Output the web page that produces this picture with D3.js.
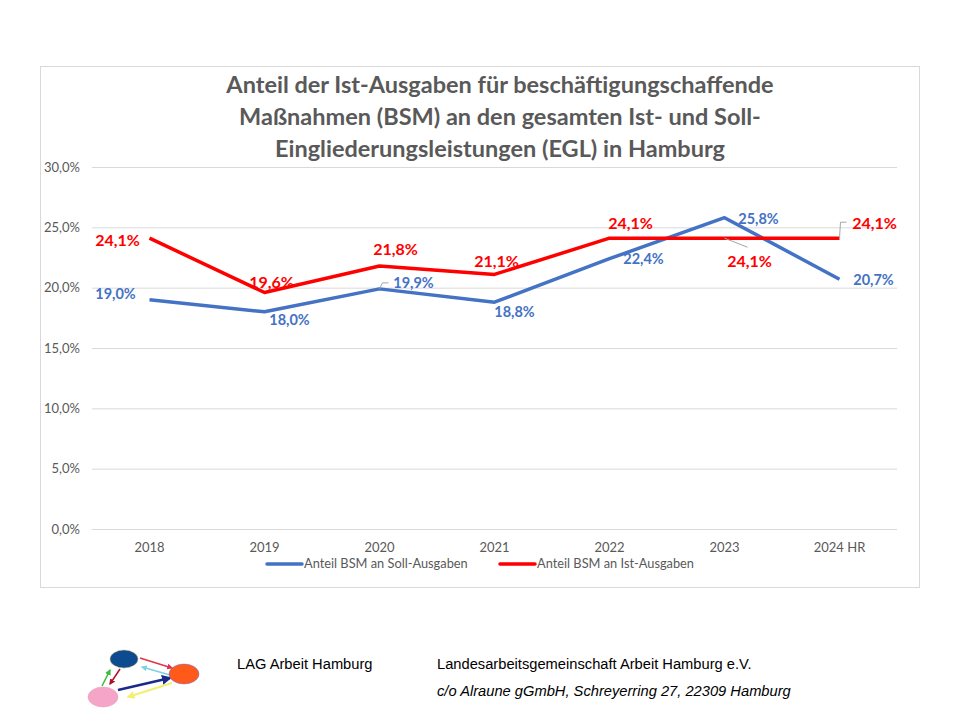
<!DOCTYPE html>
<html><head><meta charset="utf-8">
<script src="https://cdn.jsdelivr.net/npm/d3@7"></script>
<style>body{margin:0;background:#fff}svg{display:block}</style>
</head><body>
<svg id="c" width="960" height="720"></svg>
<script>
const categories = ["2018","2019","2020","2021","2022","2023","2024 HR"];
const sollValues = [19.0, 18.0, 19.9, 18.8, 22.4, 25.8, 20.7];
const istValues = [24.1, 19.6, 21.8, 21.1, 24.1, 24.1, 24.1];
const yTicks = [0, 5, 10, 15, 20, 25, 30];
const seriesNames = ["Anteil BSM an Soll-Ausgaben", "Anteil BSM an Ist-Ausgaben"];
const titleLines = ["Anteil der Ist-Ausgaben für beschäftigungschaffende","Maßnahmen (BSM) an den gesamten Ist- und Soll-","Eingliederungsleistungen (EGL) in Hamburg"];
// label offsets [dx, dy] relative to point
const sollLabelPos = [[-34,-6],[25,8],[34,-6],[20,10],[34,0],[34,1],[34,1]];
const istLabelPos = [[-32,2],[7,-10],[16,-17],[2,-13],[21,-15],[25,23],[35,-15]];
const istLeader = [null,null,null,null,null,[[0,0],[23,9]],[[0,0],[1,-16],[7,-16]]];
const sollLeader = [null,null,[[0,0],[3,-6],[9,-6]],null,null,null,null];

const svg = d3.select("#c");
const fmt = v => v.toFixed(1).replace(".", ",") + "%";
const font = "Lato, 'Open Sans', sans-serif";

// chart frame
svg.append("rect").attr("x",40.5).attr("y",66.5).attr("width",879).attr("height",521)
  .attr("fill","#fff").attr("stroke","#d9d9d9").attr("stroke-width",1);

const x = d3.scaleBand().domain(categories).range([92, 897]);
const y = d3.scaleLinear().domain([0, 30]).range([529, 167]);

// title
svg.append("g").selectAll("text").data(titleLines).join("text")
  .attr("x", 500).attr("y", (d,i) => 93 + i*32)
  .attr("text-anchor","middle").attr("font-family",font)
  .attr("font-weight","bold").attr("font-size",23.5).attr("fill","#595959").text(d=>d);

// gridlines + y axis
const yAxis = d3.axisLeft(y).tickValues(yTicks).tickSize(-(897-92)).tickFormat(d => d.toFixed(1).replace(".",",") + "%").tickPadding(12);
const gy = svg.append("g").attr("transform","translate(92,0)").call(yAxis);
gy.select(".domain").remove();
gy.selectAll(".tick line").attr("stroke","#d9d9d9").attr("stroke-width",1);
gy.selectAll(".tick text").attr("font-family",font).attr("font-size",13).attr("fill","#595959");

// x axis
const xAxis = d3.axisBottom(x).tickSize(0).tickPadding(14);
const gx = svg.append("g").attr("transform","translate(0,529)").call(xAxis);
gx.select(".domain").remove();
gx.selectAll(".tick text").attr("font-family",font).attr("font-size",13).attr("fill","#595959");

const cx = c => x(c) + x.bandwidth()/2;
const line = d3.line().x((d,i)=>cx(categories[i])).y(d=>y(d));

svg.append("path").datum(sollValues).attr("d", line).attr("fill","none")
  .attr("stroke","#4472c4").attr("stroke-width",3.5).attr("stroke-linejoin","round");
svg.append("path").datum(istValues).attr("d", line).attr("fill","none")
  .attr("stroke","#ff0000").attr("stroke-width",3.5).attr("stroke-linejoin","round");

// leader lines
function leaders(vals, lead){
  vals.forEach((v,i)=>{
    if(!lead[i]) return;
    const px = cx(categories[i]), py = y(v);
    svg.append("path").attr("d", d3.line()(lead[i].map(p=>[px+p[0], py+p[1]])))
      .attr("fill","none").attr("stroke","#a6a6a6").attr("stroke-width",1);
  });
}
leaders(istValues, istLeader);
leaders(sollValues, sollLeader);

// data labels
function labels(vals, pos, color, size){
  svg.append("g").selectAll("text").data(vals).join("text")
    .attr("x",(d,i)=>cx(categories[i]) + pos[i][0])
    .attr("y",(d,i)=>y(d) + pos[i][1])
    .attr("dy","0.35em").attr("text-anchor","middle")
    .attr("font-family",font).attr("font-weight","bold")
    .attr("font-size", size).attr("fill",color).text(d=>fmt(d));
}
labels(sollValues, sollLabelPos, "#4472c4", 14.5);
labels(istValues, istLabelPos, "#ff0000", 16);

// legend
const legend = [{name:seriesNames[0], color:"#4472c4", x:267},{name:seriesNames[1], color:"#ff0000", x:500}];
const lg = svg.append("g").selectAll("g").data(legend).join("g").attr("transform",d=>`translate(${d.x},564)`);
lg.append("line").attr("x1",0).attr("x2",35).attr("stroke",d=>d.color).attr("stroke-width",3.5).attr("stroke-linecap","round");
lg.append("text").attr("x",37).attr("dy","0.35em").attr("font-family",font)
  .attr("font-size",12.8).attr("fill","#595959").text(d=>d.name);

// footer text
const ff = "'Liberation Sans', Arial, sans-serif";
svg.append("text").attr("x",237).attr("y",669).attr("font-family",ff).attr("font-size",14.7).attr("fill","#000").text("LAG Arbeit Hamburg");
svg.append("text").attr("x",437).attr("y",669).attr("font-family",ff).attr("font-size",14.7).attr("fill","#000").text("Landesarbeitsgemeinschaft Arbeit Hamburg e.V.");
svg.append("text").attr("x",437).attr("y",696).attr("font-family",ff).attr("font-size",14.7).attr("font-style","italic").attr("fill","#000").text("c/o Alraune gGmbH, Schreyerring 27, 22309 Hamburg");

// logo
const logo = svg.append("g");
const defs = svg.append("defs");
[["#e0344a","ar1"],["#7ad3e0","ar2"],["#3dbb3d","ar3"],["#b0102a","ar4"],["#1a2a8a","ar5"],["#f3ef70","ar6"]].forEach(([c,id])=>{
  defs.append("marker").attr("id",id).attr("viewBox","0 0 10 10").attr("refX",8).attr("refY",5)
    .attr("markerWidth",4).attr("markerHeight",4).attr("orient","auto")
    .append("path").attr("d","M0,0L10,5L0,10z").attr("fill",c);
});
const arrows = [
  [[140,658],[172,668],"#e0344a","ar1",1.5],
  [[170,675],[142,667],"#7ad3e0","ar2",1.5],
  [[102,686],[110,670],"#3dbb3d","ar3",1.5],
  [[120,669],[110,684],"#b0102a","ar4",1.5],
  [[118,690],[170,678],"#1a2a8a","ar5",2.5],
  [[172,683],[128,697],"#f3ef70","ar6",2]
];
arrows.forEach(a=>{
  logo.append("line").attr("x1",a[0][0]).attr("y1",a[0][1]).attr("x2",a[1][0]).attr("y2",a[1][1])
    .attr("stroke",a[2]).attr("stroke-width",a[4]).attr("marker-end",`url(#${a[3]})`);
});
logo.append("ellipse").attr("cx",124).attr("cy",659).attr("rx",14).attr("ry",9).attr("fill","#0e4a8f").attr("stroke","#c9b26a").attr("stroke-width",0.5);
logo.append("ellipse").attr("cx",184).attr("cy",674).attr("rx",15).attr("ry",10).attr("fill","#ff5a1a").attr("stroke","#6b6bd6").attr("stroke-width",0.5);
logo.append("ellipse").attr("cx",103).attr("cy",697).attr("rx",15).attr("ry",10).attr("fill","#f5a6c8").attr("stroke","#e79ab8").attr("stroke-width",0.5);
</script>
</body></html>
